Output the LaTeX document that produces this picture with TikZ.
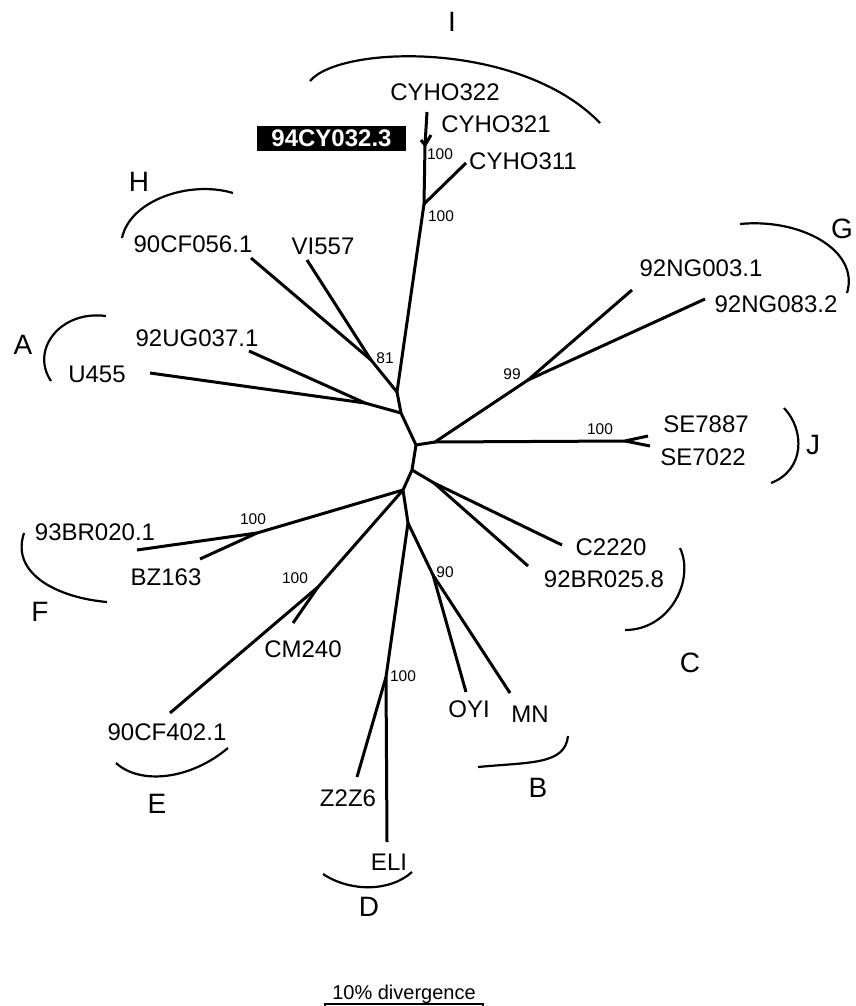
\documentclass[tikz,border=0pt]{standalone}
\usepackage{fontspec}
\setmainfont{Liberation Sans}
\usetikzlibrary{positioning}

\begin{document}
\begin{tikzpicture}[x=1pt, y=-1pt,
  branch/.style={line width=3pt, line join=round},
  bracket/.style={line width=2.2pt},
  taxon/.style={font=\fontsize{24}{26}\selectfont, inner sep=0pt},
  boot/.style={font=\fontsize{15.5}{17}\selectfont, inner sep=0pt},
  clade/.style={font=\fontsize{28}{30}\selectfont, inner sep=0pt}]

\useasboundingbox (0,0) rectangle (856,1006);

\coordinate (nI2) at (425,145);
\coordinate (nI1) at (424,204);
\coordinate (n1) at (397,392);
\coordinate (nH) at (371,360);
\coordinate (n2) at (401,413);
\coordinate (nA) at (365,403);
\coordinate (n3) at (416,445);
\coordinate (nGJ) at (435,442);
\coordinate (nG) at (528,380);
\coordinate (nJ) at (625,441);
\coordinate (n4) at (412,470);
\coordinate (nC) at (434,483);
\coordinate (n5) at (403,490);
\coordinate (nF) at (257,533);
\coordinate (nE) at (318,587);
\coordinate (n6) at (408,523);
\coordinate (nB) at (433,575);
\coordinate (nD) at (386,677);

\coordinate (tC322) at (427,112);
\coordinate (tC321) at (431,135);
\coordinate (t94) at (421,140);
\coordinate (tC311) at (466,163);
\coordinate (tVI557) at (307,260);
\coordinate (tCF056) at (251,258);
\coordinate (tUG037) at (249,351);
\coordinate (tU455) at (150,373);
\coordinate (tNG003) at (632,290);
\coordinate (tNG083) at (705,299);
\coordinate (tSE7887) at (648,436);
\coordinate (tSE7022) at (650,446);
\coordinate (tC2220) at (562,545);
\coordinate (tBR025) at (528,566);
\coordinate (tOYI) at (466,692);
\coordinate (tMN) at (510,693);
\coordinate (tZ2Z6) at (357,777);
\coordinate (tELI) at (387,842);
\coordinate (tCM240) at (293,623);
\coordinate (tCF402) at (170,713);
\coordinate (tBZ163) at (200,559);
\coordinate (tBR020) at (137,550);

\draw[branch] (tC322) -- (nI2) -- (nI1) -- (n1) -- (n2) -- (n3) -- (n4) -- (n5) -- (n6) -- (nD) -- (tELI);
\draw[branch] (tC321) -- (nI2) -- (t94);
\draw[branch] (nI1) -- (tC311);
\draw[branch] (n1) -- (nH) -- (tCF056);
\draw[branch] (nH) -- (tVI557);
\draw[branch] (n2) -- (nA) -- (tUG037);
\draw[branch] (nA) -- (tU455);
\draw[branch] (n3) -- (nGJ) -- (nG) -- (tNG003);
\draw[branch] (nG) -- (tNG083);
\draw[branch] (nGJ) -- (nJ) -- (tSE7887);
\draw[branch] (nJ) -- (tSE7022);
\draw[branch] (n4) -- (nC) -- (tC2220);
\draw[branch] (nC) -- (tBR025);
\draw[branch] (n5) -- (nF) -- (tBR020);
\draw[branch] (nF) -- (tBZ163);
\draw[branch] (n5) -- (nE) -- (tCF402);
\draw[branch] (nE) -- (tCM240);
\draw[branch] (n6) -- (nB) -- (tOYI);
\draw[branch] (nB) -- (tMN);
\draw[branch] (nD) -- (tZ2Z6);

\node[taxon] (cyho322) at (445,92) {CYHO322};
\node[taxon] (cyho321) at (496,124) {CYHO321};
\node[taxon] (cyho311) at (523,161) {CYHO311};
\node[taxon, fill=black, text=white, font=\fontsize{24}{26}\selectfont\bfseries,
  minimum width=149pt, minimum height=25pt] (cy94) at (331.5,138.5) {94CY032.3};
\node[taxon] (vi557) at (323,246) {VI557};
\node[taxon] (cf056) at (193,244) {90CF056.1};
\node[taxon] (ug037) at (197,338) {92UG037.1};
\node[taxon] (u455) at (97,374) {U455};
\node[taxon] (ng003) at (701,268) {92NG003.1};
\node[taxon] (ng083) at (776,304) {92NG083.2};
\node[taxon] (se7887) at (706,424) {SE7887};
\node[taxon] (se7022) at (703,457) {SE7022};
\node[taxon] (c2220) at (611,547) {C2220};
\node[taxon] (br025) at (604,579) {92BR025.8};
\node[taxon] (oyi) at (469,709) {OYI};
\node[taxon] (mn) at (530,714) {MN};
\node[taxon] (z2z6) at (348,798) {Z2Z6};
\node[taxon] (eli) at (389,862) {ELI};
\node[taxon] (cm240) at (303,649) {CM240};
\node[taxon] (cf402) at (167,732) {90CF402.1};
\node[taxon] (bz163) at (166,577) {BZ163};
\node[taxon] (br020) at (95,532) {93BR020.1};

\node[boot] (bI2) at (440,154) {100};
\node[boot] (bI1) at (441,216) {100};
\node[boot] (bH) at (385,358) {81};
\node[boot] (bG) at (512,374) {99};
\node[boot] (bJ) at (600,429) {100};
\node[boot] (bB) at (445,572) {90};
\node[boot] (bF) at (253,519) {100};
\node[boot] (bE) at (295,578) {100};
\node[boot] (bD) at (403,676) {100};

\node[clade] (cladeI) at (452,22) {I};
\node[clade] (cladeH) at (139,182) {H};
\node[clade] (cladeG) at (842,229) {G};
\node[clade] (cladeA) at (23,345) {A};
\node[clade] (cladeJ) at (813,445) {J};
\node[clade] (cladeC) at (690,663) {C};
\node[clade] (cladeF) at (40,612) {F};
\node[clade] (cladeE) at (157,804) {E};
\node[clade] (cladeB) at (538,788) {B};
\node[clade] (cladeD) at (369,907) {D};

\draw[bracket] (310,81) .. controls (340,45) and (520,40) .. (600,123);
\draw[bracket] (122,238) .. controls (130,200) and (190,180) .. (233,193);
\draw[bracket] (106,316) .. controls (60,310) and (30,350) .. (51,381);
\draw[bracket] (740,224) .. controls (800,218) and (860,250) .. (847,293);
\draw[bracket] (784,408) .. controls (805,430) and (805,470) .. (771,483);
\draw[bracket] (680,548) .. controls (695,580) and (670,630) .. (625,630);
\draw[bracket] (24,533) .. controls (10,575) and (60,598) .. (107,602);
\draw[bracket] (116,763) .. controls (140,785) and (190,780) .. (228,748);
\draw[bracket] (478,767) .. controls (530,762) and (565,765) .. (568,736);
\draw[bracket] (323,874) .. controls (350,892) and (390,892) .. (412,872);

\node[font=\fontsize{20}{22}\selectfont, inner sep=0pt, anchor=base] (scale) at (404,999) {10\% divergence};
\coordinate (sL) at (325,1004);
\coordinate (sR) at (483,1004);
\draw[line width=1.5pt] ([yshift=-8pt]sL) -- (sL) -- (sR) -- ([yshift=-8pt]sR);

\end{tikzpicture}
\end{document}
